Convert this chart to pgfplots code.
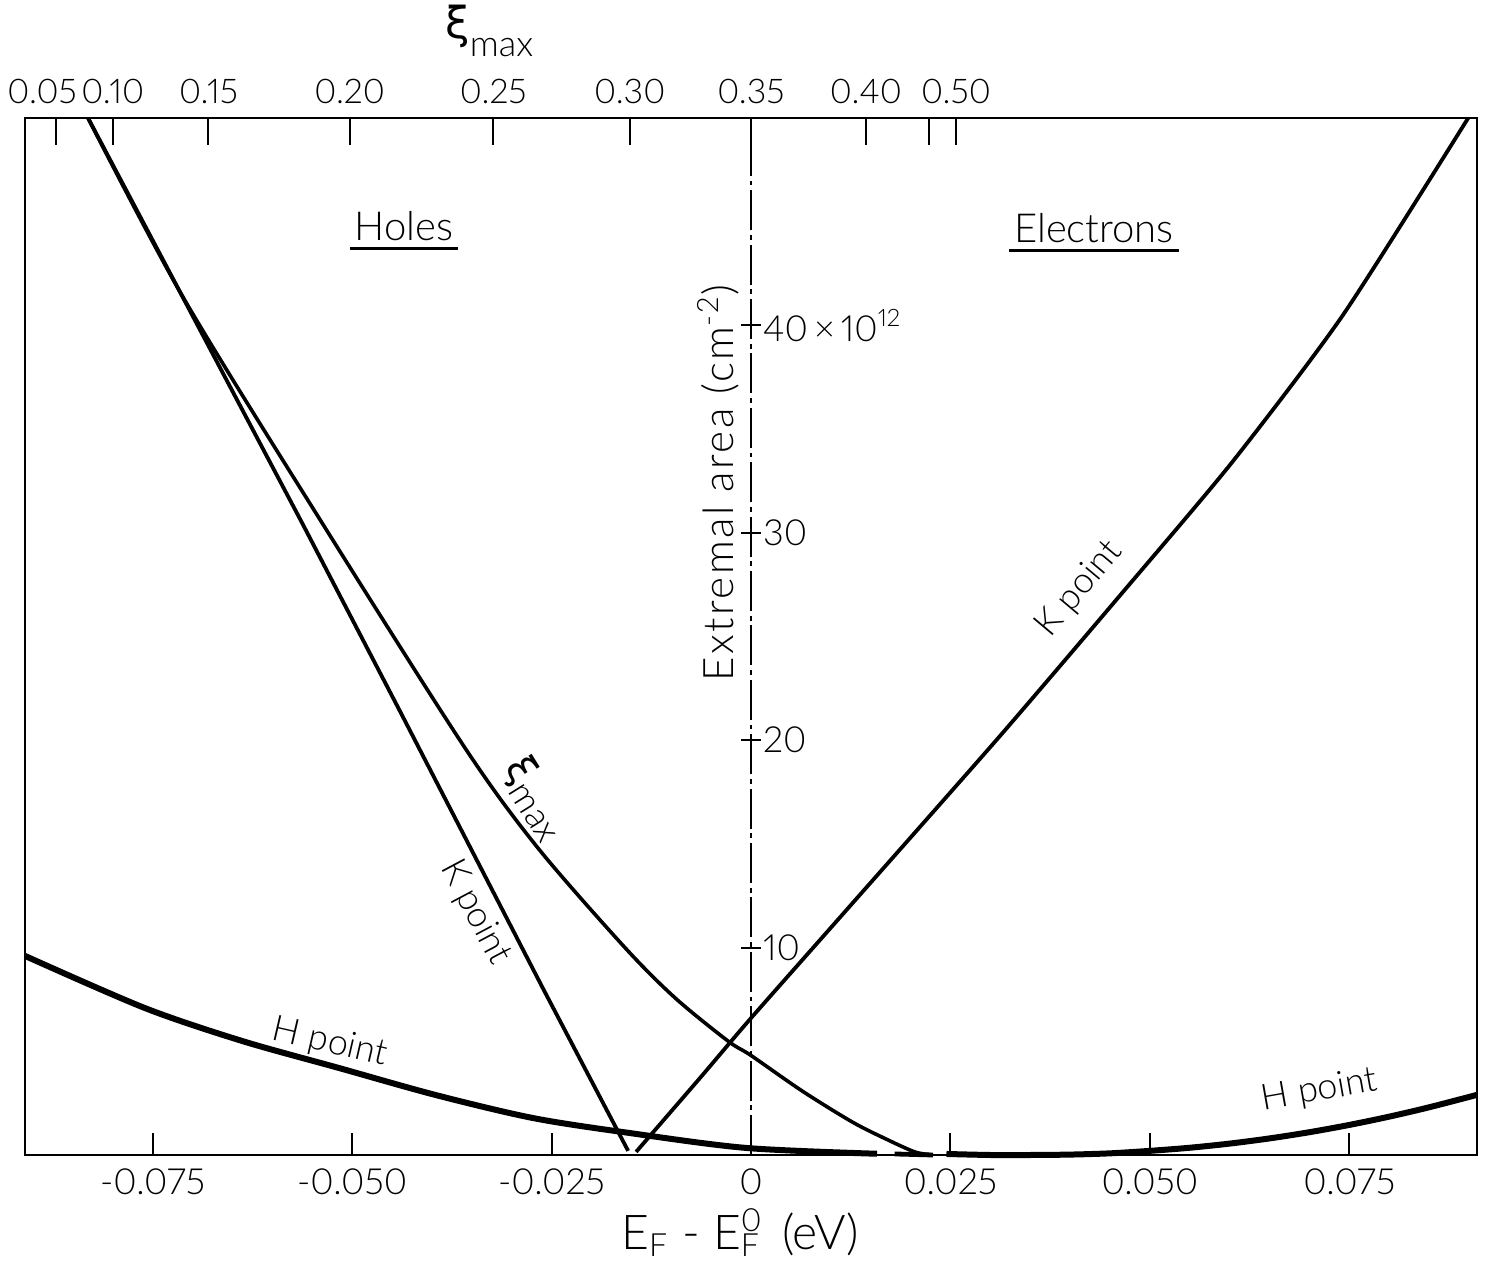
\documentclass[border=0pt]{standalone}
\usepackage{pgfplots}
\pgfplotsset{compat=1.18}
\usepackage{fontspec}
\setmainfont{Lato}[UprightFont=* Light, Numbers=Proportional]
\newfontfamily\greekfont{DejaVu Sans}
\begin{document}
\begin{tikzpicture}[font=\fontsize{9}{11}\selectfont]
\pgfplotsset{
  common/.style={
    scale only axis, width=363pt, height=259.25pt,
    xmin=-0.091, xmax=0.091, ymin=0, ymax=50,
    clip=false, scaled x ticks=false, scaled y ticks=false,
  },
}
% ---------------- main axis with data ----------------
\begin{axis}[common,
  axis line style={line width=0.6pt},
  xtick={-0.075,-0.05,-0.025,0,0.025,0.05,0.075},
  xticklabels={-0.075,-0.050,-0.025,0,0.025,0.050,0.075},
  xtick pos=bottom, xticklabel pos=bottom, ytick=\empty,
  tick align=inside, major tick length=5.5pt,
  major tick style={line width=0.5pt, black},
  xlabel={E\textsubscript{F} - E\rlap{\textsuperscript{0}}\textsubscript{F} \,(eV)},
  every axis x label/.style={at={(axis description cs:0.4924,0)}, anchor=base, yshift=-23.5pt, font=\fontsize{12}{14}\selectfont},
]
% K point (holes)
\addplot[black, line width=0.95pt, line join=round] coordinates {
(-0.0831,50) (-0.0563,30.5) (-0.0440,21.4) (-0.0261,8.05) (-0.0154,0.2)};
% K point (electrons)
\addplot[black, line width=0.95pt, smooth, tension=0.4, line join=round] coordinates {
(-0.0144,0.15) (-0.0064,3.71) (0,6.6) (0.0124,12.0) (0.0312,20.2) (0.0463,27.0) (0.0603,33.4) (0.0742,40.5) (0.0899,50)};
% xi_max
\addplot[black, line width=0.9pt, smooth, tension=0.5, line join=round] coordinates {
(-0.0831,50) (-0.0711,41.3) (-0.0538,30.5) (-0.0358,19.6) (-0.0267,14.8) (-0.0158,10.0) (-0.0095,7.57) (-0.0029,5.50) (0,4.8) (0.0064,3.09) (0.0127,1.59) (0.0172,0.72) (0.0206,0.14) (0.0228,0.0)};
% H point (holes)
\addplot[black, line width=1.5pt, smooth, tension=0.5] coordinates {
(-0.0910,9.6) (-0.0760,7.09) (-0.0638,5.50) (-0.0516,4.19) (-0.0395,2.89) (-0.0273,1.78) (-0.0152,1.06) (-0.0006,0.34) (0.0158,0.06)};
\addplot[black, line width=1.2pt] coordinates {(0.0180,0.05) (0.0228,0.0)};
% H point (electrons)
\addplot[black, line width=1.5pt, smooth, tension=0.5] coordinates {
(0.0245,0.05) (0.030,0.0) (0.035,0.0) (0.040,0.02) (0.045,0.08) (0.050,0.2) (0.055,0.35) (0.060,0.55) (0.065,0.8) (0.070,1.1) (0.075,1.45) (0.080,1.85) (0.085,2.3) (0.091,2.9)};
% annotations
\node[font=\fontsize{10}{12}\selectfont, inner xsep=1pt] (holes) at (axis cs:-0.0435,44.8) {Holes};
\draw[line width=0.75pt] ([yshift=-2pt]holes.base west) -- ([yshift=-2pt]holes.base east);
\node[font=\fontsize{10}{12}\selectfont, inner xsep=1pt] (elec) at (axis cs:0.0430,44.7) {Electrons};
\draw[line width=0.75pt] ([yshift=-2pt]elec.base west) -- ([yshift=-2pt]elec.base east);
\node[rotate=-13] at (axis cs:-0.0528,5.4) {H point};
\node[rotate=-62] at (axis cs:-0.0346,11.7) {K point};
\node[rotate=-58, inner sep=0pt] at (axis cs:-0.0270,17.2) {{\greekfont\fontsize{10}{10}\selectfont ξ}\raisebox{-2.5pt}{max}};
\node[rotate=50] at (axis cs:0.0412,27.3) {K point};
\node[rotate=10] at (axis cs:0.0713,3.1) {H point};
\node[rotate=90, font=\fontsize{10.5}{12}\selectfont\addfontfeatures{LetterSpace=6}] at (axis cs:-0.0041,32.4) {Extremal area (cm\textsuperscript{-2})};
\node[anchor=base west, inner sep=0pt] at (axis cs:-0.0384,50) [yshift=20pt] {{\greekfont\fontsize{11}{11}\selectfont ξ}\raisebox{-4.5pt}{max}};
\end{axis}
% ---------------- top xi_max scale ----------------
\begin{axis}[common,
  axis x line*=top, axis y line=none,
  axis line style={line width=0.6pt},
  xtick={-0.0871,-0.0800,-0.0680,-0.0503,-0.0323,-0.0152,0,0.0144,0.0223,0.0257},
  xticklabels={{0.05\hspace*{7pt}},0.10,0.15,0.20,0.25,0.30,0.35,0.40,{},0.50},
  xticklabel style={font=\fontsize{8.5}{10}\selectfont},
  tick align=inside, major tick length=6.75pt,
  major tick style={line width=0.5pt, black},
]
\end{axis}
% ---------------- central y axis ----------------
\begin{axis}[common,
  axis x line=none, axis y line*=center,
  ytick={10,20,30,40},
  yticklabels={10,20,30,{40\,×\,10\textsuperscript{12}}},
  tick align=center, major tick length=5pt,
  yticklabel pos=right,
  yticklabel style={anchor=west, xshift=2pt},
  y axis line style={line width=0.45pt, dash pattern=on 10pt off 1.2pt on 1.2pt off 1.2pt},
  major tick style={line width=0.5pt, black},
]
\end{axis}
\pgfresetboundingbox
\path[use as bounding box] (-6.25pt,-27.75pt) rectangle (366.25pt,288.75pt);
\end{tikzpicture}
\end{document}
